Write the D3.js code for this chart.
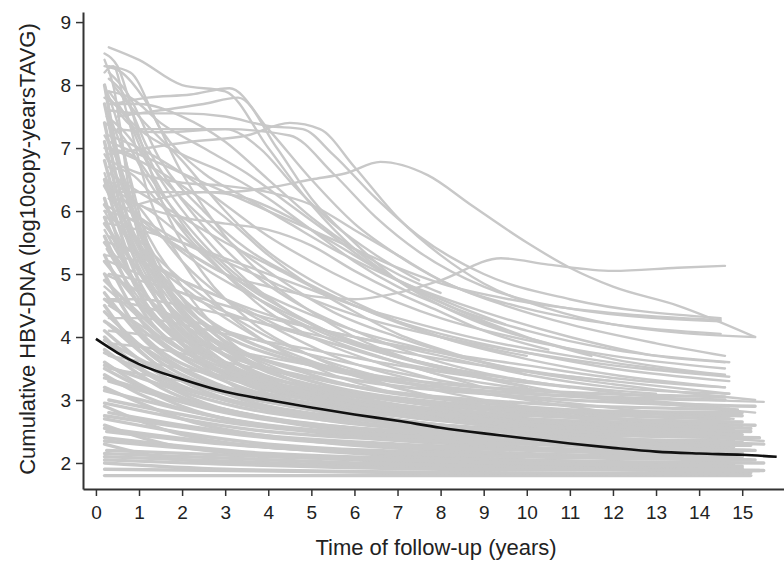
<html>
<head>
    <script src="https://d3js.org/d3.v7.min.js"></script>
    <style>
        body { margin: 0; background: white; }
        svg { display: block; }
    </style>
</head>
<body>
    <svg id="spaghetti" width="784" height="564"></svg>
    <script>
        // individual trajectories, [years, log10 value]
        const upperLines = [
            [[0.3,8.6],[1,8.4],[2,8.0],[3,7.9],[4,7.0],[5,6.1],[6,5.4],[7,4.9],[8,4.55],[10,4.1],[12,3.8],[14.7,3.6]],
            [[0.4,7.7],[1.2,7.8],[2.2,7.85],[3.1,7.95],[4,7.3],[5,6.5],[6,5.8],[7,5.3],[8,4.9],[10,4.45],[12,4.2],[14.5,4.05]],
            [[0.3,7.6],[1,7.55],[2,7.55],[3,7.5],[4,7.35],[4.8,7.3],[5.5,6.9],[6.5,6.2],[7.5,5.6],[9,5.0],[11,4.6],[14.5,4.3]],
            [[0.5,7.3],[1.5,7.25],[3,7.3],[4.5,7.2],[5.5,6.6],[6.5,5.9],[7.5,5.35],[9,4.8],[11,4.45],[14.5,4.25]],
            [[0.3,6.3],[1.5,6.3],[3,6.3],[4,6.37],[5,6.5],[5.8,6.6],[6.6,6.78],[7.7,6.57],[8.7,6.1],[10,5.5],[11,5.1],[12,4.8],[13.5,4.5],[15.3,4.0]],
            [[0.4,6.4],[1,5.9],[2,5.4],[3,5.0],[4,4.8],[5,4.65],[6,4.6],[7,4.7],[8,4.9],[9.4,5.25],[10.5,5.15],[12,5.05],[13.5,5.1],[14.6,5.13]],
            [[0.3,8.3],[0.8,8.2],[1.5,7.3],[2.5,6.6],[3.5,6.2],[4.5,5.8],[5.5,5.4],[7,4.9],[9,4.4],[11,4.0],[13,3.7],[14.6,3.6]],
            [[0.5,7.5],[1.5,7.6],[2.5,7.7],[3.3,7.8],[4.2,7.0],[5,6.2],[6,5.5],[7,4.9],[8,4.5],[9,4.2],[10.5,3.9],[12,3.65],[14.6,3.4]],
            [[0.3,6.9],[1.2,7.0],[2.2,7.1],[3.5,7.2],[4.5,7.4],[5.2,7.3],[6,6.7],[7,5.9],[8,5.3],[9,4.85],[10.5,4.45],[12,4.2],[15.3,4.0]],
            [[0.3,6.8],[1,6.6],[2,6.45],[3,6.4],[4,6.3],[5,6.1],[6,5.7],[7,5.3],[8,4.9],[9.5,4.5],[11,4.2],[13,3.9],[14.6,3.7]],
            [[0.3,6.6],[1,6.3],[2,5.9],[3,5.5],[4,5.15],[5,4.8],[6,4.5],[7,4.25],[8,4.05],[10,3.75],[12,3.5],[14.7,3.3]],
            [[0.2,6.1],[1,5.8],[2,5.4],[3,5.0],[4,4.65],[5,4.35],[6,4.1],[8,3.75],[10,3.45],[12,3.25],[15.3,3.0]],
            [[0.3,7.2],[1,7.0],[2,6.6],[3,6.1],[4,5.6],[5,5.2],[6,4.85],[7,4.55],[8,4.3],[10,3.95],[12,3.7],[14.6,3.5]],
            [[0.4,8.0],[1,7.5],[2,6.8],[3,6.0],[4,5.35],[5,4.9],[6,4.55],[7,4.25],[8,4.0],[10,3.65],[12,3.4],[14.6,3.2]],
            [[0.3,5.6],[1,5.3],[2,4.9],[3,4.6],[4,4.35],[5,4.15],[6,4.0],[8,3.7],[10,3.4],[12,3.2],[14.7,3.1]],
            [[0.3,5.2],[1,5.0],[2,4.7],[3,4.4],[5,4.0],[7,3.6],[9,3.35],[11,3.1],[13,2.95],[15.3,2.8]]
        ];

        const middleLines = [
            [[0.3,8.2],[0.7,7.9],[1.5,6.8],[2.5,6.0],[3.5,5.4],[4.5,5.0],[6,4.5],[8,4.0],[10,3.7]],
            [[0.3,7.8],[1,7.3],[2,6.9],[3,6.6],[4,6.2],[5,5.7],[6,5.2],[7,4.8],[8,4.5],[9.5,4.1]],
            [[0.5,7.6],[1,7.3],[2,7.3],[3,7.3],[3.8,7.0],[4.6,6.4],[5.5,5.8],[6.5,5.3],[7.5,4.9]],
            [[0.3,7.9],[0.8,7.8],[1.5,7.4],[2.5,7.0],[3.5,6.6],[4.5,6.1],[5.5,5.6],[6.5,5.1],[8,4.6],[9.5,4.2]],
            [[0.3,6.4],[1,6.1],[2,5.9],[3,5.8],[4,5.7],[5,5.45],[6,5.05],[7,4.7],[8,4.4],[9,4.1],[10.5,3.8]],
            [[0.3,7.0],[1,6.8],[2,6.4],[3,5.9],[4,5.3],[5,4.8],[6,4.4],[7,4.05],[8.5,3.7],[10,3.4]],
            [[0.2,8.5],[0.5,8.3],[1,7.2],[1.5,6.2],[2.5,5.0],[3.5,4.3],[5,3.7],[7,3.2],[9,2.9]],
            [[0.2,8.3],[0.6,8.2],[1.1,7.8],[2,6.6],[3,5.6],[4,4.9],[5,4.4],[6,4.0],[7.5,3.6]],
            [[0.3,7.7],[1,7.7],[2,7.5],[3,7.1],[4,6.5],[5,5.9],[6,5.4],[7,5.0],[8,4.7]],
            [[0.5,6.0],[1.5,6.2],[2.5,6.3],[3.5,6.2],[4.5,5.9],[5.5,5.5],[7,4.9],[8.5,4.4],[10,4.0],[11.5,3.7]]
        ];

        const fanLines = [
            [[0.2,8.4],[0.4,8.0],[0.8,6.2],[1.3,4.8],[2,3.9],[3,3.3],[4.5,2.9]],
            [[0.2,8.0],[0.5,7.4],[1,5.8],[1.6,4.6],[2.5,3.8],[4,3.1],[6,2.7]],
            [[0.25,7.6],[0.6,7.0],[1.2,5.5],[2,4.4],[3,3.7],[4.5,3.2],[7,2.8]],
            [[0.2,7.2],[0.5,6.8],[1,5.9],[2,4.8],[3,4.0],[4,3.5],[6,3.0],[8,2.7]],
            [[0.2,6.9],[0.6,6.4],[1.2,5.5],[2,4.6],[3,3.9],[5,3.2],[7,2.8]],
            [[0.2,6.6],[0.5,6.0],[1,5.2],[2,4.2],[3,3.6],[5,3.0],[8,2.6]],
            [[0.3,6.3],[0.7,5.8],[1.3,5.0],[2.2,4.2],[3.5,3.5],[5.5,3.0],[9,2.6]],
            [[0.2,6.0],[0.6,5.5],[1.2,4.8],[2,4.1],[3,3.6],[5,3.0],[8,2.6],[11,2.4]],
            [[0.2,5.7],[0.8,5.0],[1.5,4.4],[2.5,3.8],[4,3.3],[6,2.9],[9,2.6],[12,2.4]],
            [[0.25,5.4],[0.7,4.9],[1.5,4.2],[2.5,3.6],[4,3.1],[6,2.8],[10,2.5]],
            [[0.2,8.2],[0.4,8.3],[0.7,7.6],[1.2,6.3],[2,5.2],[3,4.4],[4,3.9],[5.5,3.4],[7,3.1]],
            [[0.3,7.9],[0.7,7.5],[1.3,6.6],[2,5.8],[3,5.0],[4,4.4],[5,4.0],[6.5,3.6],[8,3.3]],
            [[0.2,7.4],[0.6,7.2],[1.2,6.5],[2,5.7],[3,5.0],[4,4.5],[5,4.1],[7,3.6],[9,3.2]],
            [[0.3,6.7],[0.8,6.6],[1.5,6.1],[2.5,5.4],[3.5,4.8],[4.5,4.4],[6,3.9],[8,3.5],[10,3.2]],
            [[0.2,6.5],[0.7,6.3],[1.3,5.8],[2,5.2],[3,4.6],[4,4.2],[5.5,3.7],[7.5,3.3],[10,3.0],[12,2.8]],
            [[0.2,5.9],[0.6,5.8],[1.2,5.4],[2,4.9],[3,4.4],[4,4.0],[5,3.7],[7,3.3],[9,3.0],[11,2.8]],
            [[0.3,5.5],[1,5.3],[2,4.8],[3,4.3],[4,3.9],[5.5,3.5],[7.5,3.1],[10,2.8],[13,2.6]],
            [[0.2,5.0],[0.8,4.8],[1.6,4.4],[2.5,4.0],[3.5,3.7],[5,3.3],[7,3.0],[10,2.7],[14,2.5]],
            [[0.2,4.8],[0.7,4.5],[1.5,4.0],[2.5,3.6],[4,3.2],[6,2.9],[9,2.6],[12,2.4],[14.8,2.3]],
            [[0.3,4.5],[1,4.2],[2,3.8],[3,3.5],[4.5,3.2],[6.5,2.9],[9,2.7],[12,2.5],[15,2.4]],
            [[0.2,7.8],[0.6,7.6],[1.5,6.5],[2.5,5.6],[3.5,4.9],[5,4.2],[7,3.7],[9,3.4]],
            [[0.2,7.0],[0.8,6.9],[1.6,6.2],[2.6,5.4],[3.6,4.8],[5,4.2],[7,3.7],[10,3.3],[13,3.1]],
            [[0.3,6.2],[1,6.1],[2,5.6],[3,5.0],[4,4.5],[5.5,4.0],[7.5,3.6],[10,3.3]],
            [[0.2,5.3],[1,5.2],[2,4.9],[3,4.6],[4.5,4.1],[6,3.8],[8,3.4],[11,3.1],[14.7,2.9]],
            [[0.3,8.1],[0.6,7.9],[1.2,7.0],[2.2,6.0],[3.3,5.2],[4.5,4.6],[6,4.1],[8,3.6],[11,3.2]],
            [[0.25,7.5],[0.6,7.3],[1.3,6.7],[2.3,6.0],[3.3,5.4],[4.3,4.9],[5.5,4.4],[7,4.0],[9,3.6],[12,3.3]],
            [[0.2,6.0],[0.7,5.9],[1.5,5.6],[2.5,5.1],[3.5,4.7],[5,4.2],[7,3.7],[9.5,3.3]],
            [[0.2,4.6],[1,4.5],[2,4.3],[3,4.1],[4.5,3.8],[6.5,3.5],[9,3.2],[12,3.0],[14.9,2.85]]
        ];

        const rightLines = [
            [[0.3,5.0],[1,4.9],[2,4.7],[3,4.5],[4,4.3],[5,4.15],[6,4.0],[8,3.75],[10,3.55],[12,3.35],[14.6,3.2]],
            [[0.3,4.6],[1,4.6],[2,4.5],[3,4.35],[4,4.2],[6,3.9],[8,3.65],[10,3.45],[12,3.3],[14.7,3.1]],
            [[0.3,4.3],[1,4.3],[2,4.2],[3,4.05],[5,3.8],[7,3.55],[9,3.35],[11,3.2],[13,3.05],[15.5,2.97]],
            [[0.3,4.1],[1.5,4.0],[3,3.8],[5,3.55],[7,3.3],[9,3.1],[11,2.95],[13,2.8],[14.8,2.7]],
            [[0.3,3.9],[1.5,3.8],[3,3.6],[5,3.35],[7,3.1],[9,2.95],[11,2.8],[13,2.65],[14.8,2.6]],
            [[0.3,3.7],[2,3.5],[4,3.25],[6,3.0],[8,2.85],[10,2.7],[12,2.6],[15,2.5]],
            [[0.3,3.5],[2,3.3],[4,3.1],[6,2.9],[8,2.75],[10,2.6],[12,2.5],[15.5,2.35]],
            [[0.3,6.2],[1,5.9],[2,5.5],[3,5.2],[4,4.9],[5,4.6],[6,4.35],[8,4.0],[10,3.75],[12,3.55],[14.7,3.37]],
            [[0.3,5.8],[1,5.7],[2,5.5],[3,5.25],[4,5.0],[5,4.75],[6,4.5],[7,4.3],[9,3.95],[11,3.7],[13,3.5],[14.5,3.4]],
            [[0.3,7.1],[1,6.9],[2,6.6],[3,6.3],[4,6.0],[5,5.7],[6,5.4],[7,5.1],[8,4.85],[10,4.55],[12,4.38],[14.5,4.27]]
        ];

        const bandLines = [
            [[0.2,1.8],[5,1.8],[10,1.8],[15.2,1.8]],
            [[0.2,2.0],[3,1.9],[8,1.85],[15,1.82]],
            [[0.2,2.3],[2,2.05],[6,1.95],[15.4,1.88]],
            [[0.2,2.6],[2,2.25],[6,2.05],[12,1.95],[15,1.92]],
            [[0.2,2.9],[2,2.45],[5,2.2],[10,2.05],[14.8,1.98]],
            [[0.2,3.2],[2,2.7],[5,2.35],[10,2.15],[15.2,2.05]],
            [[0.2,3.5],[2,2.9],[5,2.5],[10,2.25],[15,2.15]],
            [[0.2,3.8],[1.5,3.2],[4,2.7],[8,2.4],[15.3,2.2]],
            [[0.2,4.1],[1.5,3.4],[4,2.85],[8,2.5],[14.7,2.3]],
            [[0.2,4.4],[1.5,3.6],[4,3.0],[8,2.6],[15.5,2.3]],
            [[0.2,4.7],[1.2,3.9],[3,3.2],[6,2.75],[12,2.45],[15,2.4]],
            [[0.2,5.0],[1,4.1],[3,3.3],[6,2.85],[12,2.5],[14.8,2.45]],
            [[0.2,5.3],[1,4.3],[3,3.4],[6,2.9],[11,2.55],[15.2,2.5]],
            [[0.2,5.6],[1,4.5],[2.5,3.6],[6,2.95],[11,2.6],[14.8,2.55]],
            [[0.2,5.9],[1,4.7],[2.5,3.75],[5,3.1],[10,2.7],[15,2.6]],
            [[0.25,2.2],[4,2.1],[9,2.0],[13,1.95]],
            [[0.25,2.5],[3,2.3],[7,2.15],[11,2.1]],
            [[0.3,2.8],[3,2.5],[7,2.3],[12,2.2],[15,2.15]],
            [[0.3,3.0],[3,2.65],[7,2.4],[12,2.3],[14.8,2.25]],
            [[0.3,3.3],[3,2.8],[7,2.5],[13,2.35]],
            [[0.2,2.1],[5,1.98],[10,1.92],[15,1.9]],
            [[0.2,2.4],[4,2.15],[9,2.05],[15.5,2.0]],
            [[0.2,2.7],[4,2.3],[9,2.15],[15,2.1]],
            [[0.2,3.4],[1,3.1],[3,2.7],[6,2.45],[10,2.3]],
            [[0.2,3.6],[1,3.25],[3,2.85],[6,2.55],[9,2.4]],
            [[0.2,4.0],[1,3.5],[3,3.0],[6,2.65],[10,2.4],[14.8,2.35]],
            [[0.2,4.5],[1,3.8],[3,3.1],[6,2.7],[9,2.5]],
            [[0.2,6.2],[0.8,5.0],[2,3.9],[4,3.2],[7,2.8],[12,2.55],[15,2.5]],
            [[0.2,6.5],[0.8,5.2],[2,4.0],[4,3.3],[8,2.8],[13,2.6],[14.8,2.55]],
            [[0.2,6.8],[0.7,5.6],[1.5,4.5],[3,3.6],[6,3.0],[10,2.7],[15.3,2.6]],
            [[0.2,7.1],[0.6,6.0],[1.5,4.7],[3,3.7],[6,3.05],[10,2.75]],
            [[0.2,7.4],[0.6,6.2],[1.5,4.9],[3,3.8],[6,3.1],[11,2.75],[14.7,2.6]],
            [[0.2,7.7],[0.6,6.5],[1.3,5.2],[2.5,4.1],[5,3.3],[9,2.9],[14.7,2.7]],
            [[0.2,8.0],[0.5,6.9],[1.2,5.4],[2.5,4.2],[5,3.4],[9,2.95],[15,2.75]],
            [[0.3,3.9],[2,3.1],[5,2.6],[9,2.35],[15.2,2.2]],
            [[0.3,4.2],[2,3.3],[5,2.75],[9,2.45],[15,2.3]],
            [[0.2,2.15],[6,2.0],[15.2,1.85]],
            [[0.2,2.35],[5,2.1],[15,1.95]],
            [[0.2,2.55],[4,2.25],[10,2.1],[15.3,2.05]],
            [[0.2,2.75],[4,2.4],[10,2.2],[15,2.12]],
            [[0.2,2.95],[4,2.5],[10,2.3],[14.8,2.2]],
            [[0.2,3.15],[4,2.6],[10,2.35],[15.2,2.28]],
            [[0.2,3.35],[4,2.7],[10,2.42],[15,2.33]],
            [[0.2,3.55],[4,2.8],[10,2.48],[15.4,2.4]],
            [[0.2,3.75],[3,3.0],[8,2.6],[15,2.45]],
            [[0.2,3.95],[3,3.1],[8,2.7],[14.8,2.5]],
            [[0.2,4.25],[3,3.2],[8,2.75],[15.2,2.55]],
            [[0.2,4.6],[3,3.35],[8,2.85],[15,2.65]],
            [[0.2,4.9],[3,3.45],[8,2.95],[14.7,2.75]],
            [[0.2,5.2],[2,3.9],[5,3.2],[10,2.85],[15,2.8]],
            [[0.2,5.5],[2,4.1],[5,3.35],[10,2.95],[14.7,2.85]],
            [[0.2,5.8],[2,4.3],[5,3.45],[10,3.05],[15.3,2.9]],
            [[0.2,6.1],[2,4.5],[5,3.55],[10,3.1],[14.6,3.0]],
            [[0.2,6.4],[1.5,5.0],[4,3.8],[9,3.2],[14.6,3.05]],
            [[0.2,1.9],[7,1.85],[14.9,1.83]],
            [[0.2,2.05],[8,1.9],[15.5,1.88]]
        ];

        // mean trajectory (black)
        const meanCurve = [[0,3.97],[0.5,3.75],[1,3.57],[2,3.33],[3,3.13],[4,3.0],[5,2.88],[6,2.77],[7,2.67],
                           [8,2.56],[9,2.47],[10,2.39],[11,2.31],[12,2.24],[13,2.18],[14,2.15],[15,2.13],[15.8,2.1]];

        const xTicks = d3.range(0, 16);
        const yTicks = [2, 3, 4, 5, 6, 7, 8, 9];

        const svg = d3.select("#spaghetti");

        const x = d3.scaleLinear().domain([-0.3, 15.97]).range([83, 784]);
        const y = d3.scaleLinear().domain([1.587, 9.16]).range([489, 12]);

        const line = d3.line()
            .x(d => x(d[0]))
            .y(d => y(d[1]))
            .curve(d3.curveMonotoneX);

        // dense low band drawn a bit heavier so it reads as solid grey
        svg.append("g")
            .selectAll("path")
            .data(bandLines)
            .join("path")
            .attr("d", line)
            .attr("fill", "none")
            .attr("stroke", "#c8c8c8")
            .attr("stroke-width", 3.4)
            .attr("stroke-linejoin", "round")
            .attr("stroke-linecap", "round");

        svg.append("g")
            .selectAll("path")
            .data([].concat(rightLines, fanLines, middleLines, upperLines))
            .join("path")
            .attr("d", line)
            .attr("fill", "none")
            .attr("stroke", "#c8c8c8")
            .attr("stroke-width", 2.4)
            .attr("stroke-linejoin", "round")
            .attr("stroke-linecap", "round");

        svg.append("path")
            .datum(meanCurve)
            .attr("d", line)
            .attr("fill", "none")
            .attr("stroke", "#111")
            .attr("stroke-width", 2.6);

        const xAxis = svg.append("g")
            .attr("transform", "translate(0,489)")
            .call(d3.axisBottom(x).tickValues(xTicks).tickSize(7).tickSizeOuter(0).tickPadding(10));

        const yAxis = svg.append("g")
            .attr("transform", "translate(83,0)")
            .call(d3.axisLeft(y).tickValues(yTicks).tickSize(7).tickSizeOuter(0).tickPadding(5));

        [xAxis, yAxis].forEach(g => {
            g.select(".domain").attr("stroke", "#333").attr("stroke-width", 2);
            g.selectAll(".tick line").attr("stroke", "#333").attr("stroke-width", 1.5);
            g.selectAll(".tick text")
                .style("font-family", "'Liberation Sans', Arial, sans-serif")
                .style("font-size", "19px")
                .attr("fill", "#222");
        });

        svg.append("text")
            .attr("x", 436)
            .attr("y", 555)
            .attr("text-anchor", "middle")
            .style("font-family", "'Liberation Sans', Arial, sans-serif")
            .style("font-size", "22px")
            .attr("fill", "#222")
            .text("Time of follow-up (years)");

        svg.append("text")
            .attr("transform", "translate(35,249)rotate(-90)")
            .attr("text-anchor", "middle")
            .style("font-family", "'Liberation Sans', Arial, sans-serif")
            .style("font-size", "22px")
            .attr("fill", "#222")
            .text("Cumulative HBV-DNA (log10copy-yearsTAVG)");
    </script>
</body>
</html>
